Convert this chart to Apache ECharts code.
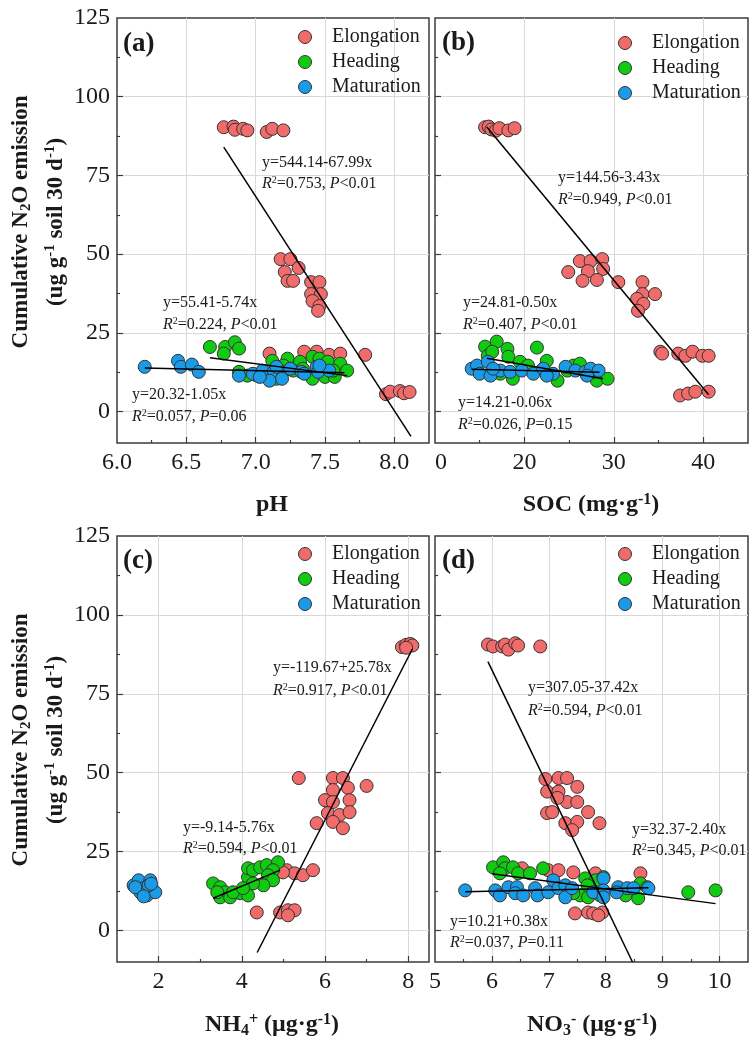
<!DOCTYPE html>
<html><head><meta charset="utf-8">
<script src="https://cdn.jsdelivr.net/npm/echarts@6/dist/echarts.min.js"></script>
<style>html,body{margin:0;padding:0;background:#fff}#c{width:750px;height:1043px}</style>
</head><body><div id="c"></div>
<script>
// ---------------- data ----------------
const seriesNames = ['Elongation', 'Heading', 'Maturation'];
const yTicks = [0, 25, 50, 75, 100, 125];
const yMinorTicks = [12.5, 37.5, 62.5, 87.5, 112.5];
const phTicks = [6.0, 6.5, 7.0, 7.5, 8.0];
const phMinor = [6.25, 6.75, 7.25, 7.75];
const socTicks = [10, 20, 30, 40];
const socMinor = [15, 25, 35];
const nhTicks = [2, 4, 6, 8];
const nhMinor = [3, 5, 7];
const noTicks = [5, 6, 7, 8, 9, 10];
const noMinor = [5.5, 6.5, 7.5, 8.5, 9.5];

// (a) pH
const phElong = [[6.77,90.3],[6.84,90.5],[6.85,89.5],[6.91,89.8],[6.94,89.3],[7.08,88.8],[7.12,89.8],[7.20,89.3],
 [7.18,48.4],[7.25,48.4],[7.21,44.3],[7.23,41.5],[7.27,41.5],[7.31,45.6],[7.40,41.1],[7.46,41.1],[7.40,37.3],[7.47,37.3],[7.41,35.1],[7.46,33.5],[7.45,32.0],
 [7.10,18.4],[7.35,19.0],[7.44,19.0],[7.53,18.0],[7.61,18.4],[7.79,18.0],
 [7.94,5.5],[7.97,6.3],[8.04,6.5],[8.07,5.8],[8.11,6.2]];
const phHead = [[6.67,20.5],[6.78,20.5],[6.85,22.0],[6.88,20.0],[6.77,18.4],[6.88,12.6],[6.94,11.4],[7.12,16.1],[7.23,16.8],[7.32,15.8],[7.41,17.4],[7.46,16.8],[7.52,15.8],[7.61,15.2],[7.66,13.0],[7.41,10.4],[7.50,11.0],[7.57,11.0],[7.15,10.4],[7.08,11.0],[7.01,11.4],[7.27,13.0],[7.20,14.6],[7.34,13.6],[7.56,13.0]];
const phMat = [[6.20,14.2],[6.44,16.1],[6.46,14.2],[6.54,14.9],[6.59,12.6],[6.88,11.4],[6.98,12.0],[7.05,13.0],[7.08,11.0],[7.13,12.6],[7.20,12.6],[7.19,10.4],[7.10,9.8],[7.25,13.6],[7.33,12.6],[7.44,14.2],[7.45,12.6],[7.53,13.0],[7.46,14.6],[7.35,12.0],[7.03,11.0],[7.15,14.2]];
const phFitE = [[6.77,84.0],[8.12,-7.9]];
const phFitH = [[6.67,17.1],[7.66,11.4]];
const phFitM = [[6.20,13.8],[7.64,12.3]];

// (b) SOC
const socElong = [[15.6,90.3],[16.0,90.5],[16.3,89.6],[16.8,89.2],[17.2,90.0],[18.2,89.3],[18.9,90.0],
 [24.9,44.3],[26.2,47.8],[27.4,47.8],[28.7,48.4],[27.1,44.6],[28.8,45.3],[26.5,41.5],[28.1,41.8],[30.5,41.1],[33.2,41.1],[33.2,37.3],[34.6,37.3],[32.6,35.8],[33.3,34.2],[32.7,32.0],
 [35.2,19.0],[35.4,18.4],[37.2,18.4],[38.0,17.7],[38.8,19.0],[39.9,17.7],[40.6,17.7],
 [37.4,5.1],[38.3,5.7],[39.1,6.3],[40.6,6.3]];
const socHead = [[15.6,20.6],[16.9,22.2],[18.1,19.9],[21.4,20.3],[18.2,17.4],[19.5,15.8],[22.5,16.1],[25.5,14.6],[26.2,15.2],[17.3,12.0],[18.7,10.4],[23.7,9.8],[28.1,9.8],[29.3,10.4],[24.8,13.0],[15.9,17.7],[16.4,19.0],[20.4,14.6],[27.7,12.6]];
const socMat = [[14.1,13.6],[14.7,14.6],[15.9,15.8],[15.0,12.0],[16.2,11.4],[17.3,13.0],[18.4,12.6],[19.7,13.0],[21.0,12.0],[22.1,13.6],[23.2,12.0],[24.6,14.2],[25.7,13.0],[26.8,12.6],[27.4,13.6],[28.3,13.0],[16.5,13.6],[22.5,11.4],[27.0,11.4]];
const socFitE = [[15.8,90.4],[40.6,5.3]];
const socFitH = [[15.8,16.9],[28.8,10.4]];
const socFitM = [[14.1,13.4],[28.4,12.5]];

// (c) NH4+
const nhElong = [[7.85,89.8],[7.95,90.5],[8.05,90.8],[8.10,90.3],[7.95,89.6],
 [5.37,48.3],[6.19,48.3],[6.43,48.3],[6.19,44.5],[6.55,45.2],[7.00,45.8],[6.00,41.3],[6.19,40.7],[6.59,41.3],[5.80,34.0],[6.07,37.2],[6.35,36.6],[6.59,37.5],[6.19,34.4],[6.43,32.4],
 [5.08,19.1],[5.27,18.1],[5.47,17.5],[5.71,19.1],[4.99,18.4],
 [4.36,5.7],[4.92,5.7],[5.11,6.4],[5.27,6.4],[5.11,4.8]];
const nhHead = [[3.31,14.9],[3.48,13.7],[3.60,12.1],[3.48,10.5],[3.72,10.5],[3.96,11.8],[4.13,13.7],[4.15,16.9],[4.15,19.7],[4.27,19.1],[4.44,20.0],[4.60,20.7],[4.87,21.6],[4.75,19.1],[4.63,17.5],[4.75,15.9],[4.52,14.3],[4.27,14.9],[4.15,11.1],[3.79,12.1],[3.41,12.1],[4.03,13.4]];
const nhMat = [[1.40,14.3],[1.52,15.9],[1.64,13.4],[1.72,11.1],[1.80,15.9],[1.85,12.7],[1.92,12.1],[1.56,12.1],[1.44,13.7],[1.76,14.3],[1.82,14.8],[1.64,10.8]];
const nhFitE = [[4.37,-7.0],[8.10,89.2]];
const nhFitH = [[3.31,10.2],[4.92,19.1]];

// (d) NO3-
const noElong = [[5.93,90.6],[6.02,90.0],[6.18,90.0],[6.23,90.6],[6.29,89.0],[6.41,91.0],[6.46,90.3],[6.85,90.0],
 [6.94,48.0],[7.17,48.3],[7.32,48.3],[6.97,44.0],[7.17,44.0],[7.50,45.5],[7.32,40.7],[7.50,40.7],[7.15,42.0],[6.97,37.2],[7.06,37.5],[7.69,37.5],[7.29,34.0],[7.50,34.4],[7.41,31.8],[7.89,34.0],
 [6.53,19.7],[6.99,19.1],[7.17,19.1],[7.43,18.4],[7.82,18.1],[8.61,18.1],
 [7.46,5.4],[7.69,5.7],[7.78,5.4],[7.94,5.7],[7.87,4.8]];
const noHead = [[6.02,20.0],[6.20,21.6],[6.23,19.7],[6.37,20.0],[6.46,18.1],[6.67,18.1],[6.90,19.7],[6.14,18.1],[7.64,16.5],[7.82,15.9],[7.96,16.9],[7.55,11.1],[7.69,10.5],[7.90,11.1],[8.35,11.1],[8.57,10.2],[8.61,14.9],[8.73,13.7],[9.45,12.1],[9.93,12.7],[7.68,14.3],[7.43,11.8]];
const noMat = [[5.53,12.7],[6.06,12.7],[6.14,11.1],[6.29,13.7],[6.44,13.7],[6.41,11.8],[6.55,11.1],[6.76,13.4],[6.80,11.1],[6.99,12.1],[7.08,15.9],[7.17,13.4],[7.29,14.3],[7.29,10.5],[7.41,13.4],[7.78,12.1],[7.96,16.5],[7.96,12.7],[7.96,10.5],[8.22,13.7],[8.38,13.4],[8.49,13.4],[8.75,13.4],[8.19,12.1]];
const noFitE = [[5.93,85.2],[8.47,-10.0]];
const noFitH = [[6.00,18.0],[9.93,8.5]];
const noFitM = [[5.53,12.3],[8.75,13.5]];

// regression annotation texts: [equation, R2, P-part]
const annA = [['y=544.14-67.99x','0.753','<0.01'],['y=55.41-5.74x','0.224','<0.01'],['y=20.32-1.05x','0.057','=0.06']];
const annB = [['y=144.56-3.43x','0.949','<0.01'],['y=24.81-0.50x','0.407','<0.01'],['y=14.21-0.06x','0.026','=0.15']];
const annC = [['y=-119.67+25.78x','0.917','<0.01'],['y=-9.14-5.76x','0.594','<0.01']];
const annD = [['y=307.05-37.42x','0.594','<0.01'],['y=32.37-2.40x','0.345','<0.01'],['y=10.21+0.38x','0.037','=0.11']];

// ---------------- layout / style ----------------
const FONT = 'Liberation Serif';
const COLORS = ['#F26B6B', '#10CB10', '#1A9BE8'];
const TXT = '#1a1a1a';
const Y_MIN = -10, Y_MAX = 125;

const grids = [
  {left:117, top:18, width:312, height:425},
  {left:435, top:18, width:313, height:425},
  {left:117, top:536, width:312, height:426},
  {left:435, top:536, width:313, height:426}
].map(g => Object.assign(g, {show:true, borderColor:'#3c3c3c', borderWidth:1.5, backgroundColor:'rgba(0,0,0,0)'}));

const panels = [
  {xr:[6.0, 8.25], xt:phTicks, xm:phMinor, fmt:v => Number(v).toFixed(1), yl:true,
   data:[phElong, phHead, phMat], fits:[phFitE, phFitH, phFitM]},
  {xr:[10, 45], xt:socTicks, xm:socMinor, fmt:v => (Number(v) === 10 ? '{h|1}0' : String(v)), yl:false,
   data:[socElong, socHead, socMat], fits:[socFitE, socFitH, socFitM]},
  {xr:[1, 8.5], xt:nhTicks, xm:nhMinor, fmt:v => String(v), yl:true,
   data:[nhElong, nhHead, nhMat], fits:[nhFitE, nhFitH]},
  {xr:[5, 10.5], xt:noTicks, xm:noMinor, fmt:v => String(v), yl:false,
   data:[noElong, noHead, noMat], fits:[noFitE, noFitH, noFitM]}
];

const xAxis = [], yAxis = [], series = [];
const labelStyle = {fontFamily:FONT, fontSize:24, color:TXT};
panels.forEach((p, g) => {
  const inner = p.xt.filter(v => v > p.xr[0] && v < p.xr[1]);
  xAxis.push({
    type:'value', gridIndex:g, min:p.xr[0], max:p.xr[1], position:'bottom',
    axisLine:{show:false, onZero:false},
    axisTick:{show:true, inside:true, length:6, customValues:inner, lineStyle:{color:'#3c3c3c', width:1.2}},
    axisLabel:Object.assign({show:true, customValues:p.xt, formatter:p.fmt, margin:8,
      rich:{h:{color:'rgba(0,0,0,0)', fontFamily:FONT, fontSize:24}}}, labelStyle),
    splitLine:{show:true, lineStyle:{color:'#d9d9d9', width:1}}
  });
  xAxis.push({
    type:'value', gridIndex:g, min:p.xr[0], max:p.xr[1], position:'bottom',
    axisLine:{show:false, onZero:false},
    axisTick:{show:true, inside:true, length:3, customValues:p.xm, lineStyle:{color:'#3c3c3c', width:1.2}},
    axisLabel:{show:false}, splitLine:{show:false}
  });
  yAxis.push({
    type:'value', gridIndex:g, min:Y_MIN, max:Y_MAX, position:'left',
    axisLine:{show:false, onZero:false},
    axisTick:{show:true, inside:true, length:6, customValues:yTicks.filter(v => v < Y_MAX), lineStyle:{color:'#3c3c3c', width:1.2}},
    axisLabel:Object.assign({show:p.yl, customValues:yTicks, margin:7}, labelStyle),
    splitLine:{show:true, lineStyle:{color:'#d9d9d9', width:1}}
  });
  yAxis.push({
    type:'value', gridIndex:g, min:Y_MIN, max:Y_MAX, position:'left',
    axisLine:{show:false, onZero:false},
    axisTick:{show:true, inside:true, length:3, customValues:yMinorTicks, lineStyle:{color:'#3c3c3c', width:1.2}},
    axisLabel:{show:false}, splitLine:{show:false}
  });
  p.data.forEach((d, k) => {
    series.push({
      type:'scatter', name:seriesNames[k], xAxisIndex:2*g, yAxisIndex:2*g, data:d,
      symbol:'circle', symbolSize:13, z:2+k,
      itemStyle:{color:COLORS[k], borderColor:'#333', borderWidth:1, opacity:1}
    });
  });
  p.fits.forEach(f => {
    series.push({
      type:'line', xAxisIndex:2*g, yAxisIndex:2*g, data:f, symbol:'none', silent:true, z:6,
      lineStyle:{color:'#000', width:1.5}
    });
  });
});

const legendPos = [[293, 22], [613, 28], [293, 539], [613, 539]];
const legend = legendPos.map(([l, t]) => ({
  data:seriesNames, orient:'vertical', left:l, top:t, icon:'circle',
  itemWidth:44, itemHeight:13, itemGap:5,
  itemStyle:{borderColor:'#333', borderWidth:1},
  textStyle:{fontFamily:FONT, fontSize:20, color:TXT}
}));

function txt(x, y, text, opts) {
  const o = opts || {};
  const size = o.size || 16;
  const weight = o.weight || 'normal';
  const base = {fontFamily:FONT, fontSize:size, fontWeight:weight, fill:TXT};
  const sub = Math.round(size * 0.65);
  return {
    type:'text', x:x, y:y, rotation:o.rot || 0, silent:true, z:100,
    style:Object.assign({}, base, {
      text:text, align:o.align || 'left', textAlign:o.align || 'left',
      verticalAlign:'middle', textVerticalAlign:'middle',
      lineHeight:o.lh || size + 1,
      rich:{
        i:Object.assign({}, base, {fontStyle:'italic'}),
        sup:Object.assign({}, base, {fontSize:sub, verticalAlign:'top'}),
        sub:Object.assign({}, base, {fontSize:sub, verticalAlign:'bottom'})
      }
    })
  };
}
function ann(x, y1, y2, a) {
  return [txt(x, y1, a[0]), txt(x, y2, '{i|R}{sup|2}=' + a[1] + ', {i|P}' + a[2])];
}

const graphics = [];
// panel letters
[['(a)',123,44],['(b)',442,43],['(c)',123,561],['(d)',442,561]].forEach(([s,x,y]) =>
  graphics.push(txt(x, y, s, {size:27, weight:'bold'})));
// y titles
[222, 740].forEach(cy => {
  graphics.push(txt(21, cy, 'Cumulative N{sub|2}O emission', {size:23, weight:'bold', align:'center', rot:Math.PI/2, lh:26}));
  graphics.push(txt(56, cy, '(ug g{sup|-1} soil 30 d{sup|-1})', {size:23, weight:'bold', align:'center', rot:Math.PI/2, lh:26}));
});
// x titles
graphics.push(txt(272, 505, 'pH', {size:24, weight:'bold', align:'center', lh:27}));
graphics.push(txt(591, 505, 'SOC (mg·g{sup|-1})', {size:24, weight:'bold', align:'center', lh:27}));
graphics.push(txt(272, 1025, 'NH{sub|4}{sup|+} (μg·g{sup|-1})', {size:24, weight:'bold', align:'center', lh:27}));
graphics.push(txt(592, 1025, 'NO{sub|3}{sup|-} (μg·g{sup|-1})', {size:24, weight:'bold', align:'center', lh:27}));
// annotations
graphics.push(...ann(262, 163, 184, annA[0]), ...ann(163, 303, 325, annA[1]), ...ann(132, 395, 417, annA[2]));
graphics.push(...ann(558, 178, 200, annB[0]), ...ann(463, 303, 325, annB[1]), ...ann(458, 403, 425, annB[2]));
graphics.push(...ann(273, 668, 691, annC[0]), ...ann(183, 828, 849, annC[1]));
graphics.push(...ann(528, 688, 711, annD[0]), ...ann(632, 830, 851, annD[1]), ...ann(450, 922, 943, annD[2]));

const chart = echarts.init(document.getElementById('c'), null, {renderer:'canvas'});
chart.setOption({
  animation:false, backgroundColor:'#fff',
  grid:grids, xAxis:xAxis, yAxis:yAxis, series:series, legend:legend, graphic:graphics
});
</script></body></html>
